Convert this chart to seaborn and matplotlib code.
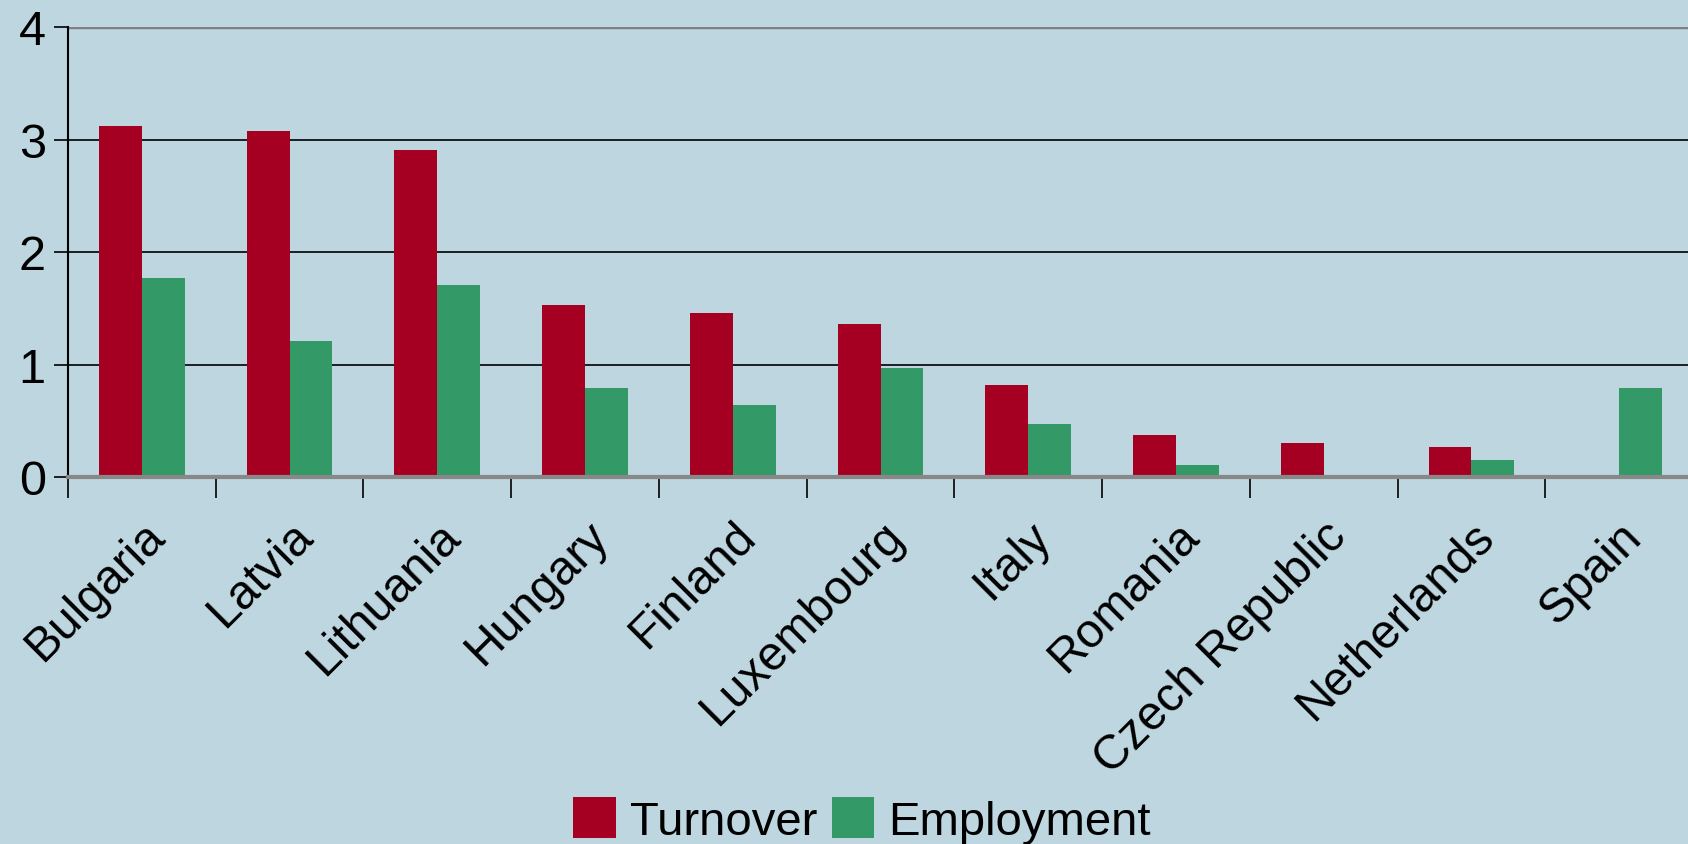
import matplotlib
matplotlib.use("Agg")
import matplotlib.pyplot as plt
from matplotlib.ticker import MultipleLocator
import seaborn as sns
import pandas as pd

# Data
countries = ["Bulgaria", "Latvia", "Lithuania", "Hungary", "Finland", "Luxembourg",
             "Italy", "Romania", "Czech Republic", "Netherlands", "Spain"]
turnover = [3.12, 3.08, 2.91, 1.53, 1.46, 1.36, 0.82, 0.37, 0.30, 0.27, 0.0]
employment = [1.77, 1.21, 1.71, 0.79, 0.64, 0.97, 0.47, 0.11, 0.0, 0.15, 0.79]

BG = "#BDD6E0"
RED = "#A50021"
GREEN = "#339966"

df = pd.DataFrame({"country": countries * 2,
                   "value": turnover + employment,
                   "series": ["Turnover"] * len(countries) + ["Employment"] * len(countries)})

sns.set_theme(style="white")
plt.rcParams["font.family"] = ["Liberation Sans", "DejaVu Sans"]
plt.rcParams["text.color"] = "black"
plt.rcParams["xtick.labelcolor"] = "black"
plt.rcParams["ytick.labelcolor"] = "black"

fig = plt.figure(figsize=(16.88, 8.45), dpi=100, facecolor=BG)
ax = fig.add_axes([68 / 1688, 1 - 478 / 845, 1625 / 1688, 450 / 845])
ax.set_facecolor(BG)

sns.barplot(data=df, x="country", y="value", hue="series",
            palette={"Turnover": RED, "Employment": GREEN},
            width=0.58, saturation=1, linewidth=0, ax=ax, zorder=3, legend=True)

ax.set_xlim(-0.5, len(countries) - 0.5)
ax.set_ylim(0, 4)
ax.yaxis.set_major_locator(MultipleLocator(1))

# gridlines
for y in [1, 2, 3]:
    ax.axhline(y, color="black", lw=1.2, zorder=1)
ax.axhline(4, color="#808080", lw=2.5, zorder=1)

for side in ["top", "right"]:
    ax.spines[side].set_visible(False)
ax.spines["left"].set_color("black")
ax.spines["left"].set_linewidth(1.5)
ax.spines["bottom"].set_color("#888888")
ax.spines["bottom"].set_linewidth(3)
ax.spines["bottom"].set_zorder(4)

ax.set_xlabel("")
ax.set_ylabel("")

ax.tick_params(axis="y", which="major", direction="out", length=10, width=1.2,
               color="black", labelsize=35, pad=6, left=True)
ax.tick_params(axis="x", which="major", length=0, labelsize=34.5, pad=26)
ax.set_xticks(range(len(countries)))
ax.set_xticklabels(countries, rotation=45, ha="right", rotation_mode="anchor")
ax.set_xticks([i - 0.5 for i in range(len(countries))], minor=True)
ax.tick_params(axis="x", which="minor", direction="out", length=15, width=1.2,
               color="black", bottom=True)

leg = ax.legend(loc="lower center", bbox_to_anchor=(862 / 1688, -0.022), bbox_transform=fig.transFigure,
                ncol=2, frameon=False, fontsize=34, handlelength=0.9, handleheight=0.95,
                handletextpad=0.3, columnspacing=0.3, borderaxespad=0.0)
for h in leg.legend_handles:
    h.set_linewidth(0)

fig.savefig("out.png", dpi=100, facecolor=BG)
